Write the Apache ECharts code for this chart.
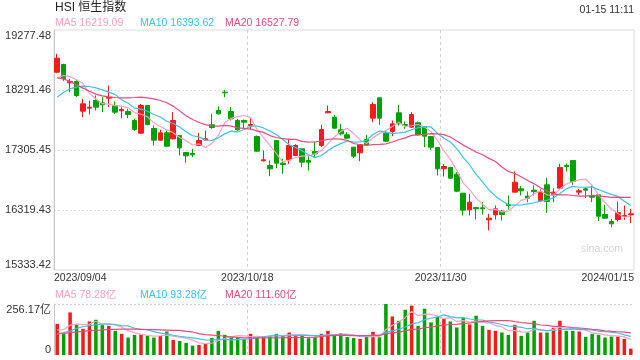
<!DOCTYPE html>
<html><head><meta charset="utf-8">
<script src="https://cdn.jsdelivr.net/npm/echarts@6/dist/echarts.min.js"></script>
<style>html,body{margin:0;padding:0;background:#fff}#c{width:640px;height:360px}</style>
</head><body><div id="c"></div>
<script>
const dates = ['2023/09/04','2023/09/05','2023/09/06','2023/09/07','2023/09/11','2023/09/12','2023/09/13','2023/09/14','2023/09/15','2023/09/18','2023/09/19','2023/09/20','2023/09/21','2023/09/22','2023/09/25','2023/09/26','2023/09/27','2023/09/28','2023/09/29',
'2023/10/03','2023/10/04','2023/10/05','2023/10/06','2023/10/09','2023/10/10','2023/10/11','2023/10/12','2023/10/13','2023/10/16','2023/10/17','2023/10/18','2023/10/19','2023/10/20','2023/10/24','2023/10/25','2023/10/26','2023/10/27','2023/10/30','2023/10/31',
'2023/11/01','2023/11/02','2023/11/03','2023/11/06','2023/11/07','2023/11/08','2023/11/09','2023/11/10','2023/11/13','2023/11/14','2023/11/15','2023/11/16','2023/11/17','2023/11/20','2023/11/21','2023/11/22','2023/11/23','2023/11/24','2023/11/27','2023/11/28','2023/11/29','2023/11/30',
'2023/12/01','2023/12/04','2023/12/05','2023/12/06','2023/12/07','2023/12/08','2023/12/11','2023/12/12','2023/12/13','2023/12/14','2023/12/15','2023/12/18','2023/12/19','2023/12/20','2023/12/21','2023/12/22','2023/12/27','2023/12/28','2023/12/29',
'2024/01/02','2024/01/03','2024/01/04','2024/01/05','2024/01/08','2024/01/09','2024/01/10','2024/01/11','2024/01/12','2024/01/15'];

const opens = [18584.6,18710.6,18409.3,18431.2,17943.6,17992.9,18118.9,18080.6,18157.3,18036.8,
17949.1,17938.2,17790.3,17582.1,18036.8,17658.8,17467.0,17587.6,17489.0,17543.7,
17264.4,17247.9,17379.4,17472.5,17719.0,17954.6,18255.9,17938.2,17790.3,17790.3,
17708.1,17527.3,17127.4,17050.7,17461.6,17089.0,17143.8,17215.1,17324.6,17132.9,
17280.8,17379.4,17916.2,17845.0,17636.9,17554.7,17352.0,17258.9,17478.0,17828.6,
18162.8,17582.1,17609.5,17916.2,17724.5,17680.7,17751.9,17691.6,17527.3,17346.5,
16995.9,17017.9,16908.3,16596.0,16322.1,16360.5,16355.0,16157.8,16240.0,16300.2,
16409.8,16612.5,16667.3,16546.7,16645.3,16475.5,16733.0,16568.7,16678.2,17050.7,
17132.9,16612.5,16667.3,16552.2,16568.7,16245.5,16130.4,16163.3,16212.6,16240.0];

const closes = [18814.6,18475.0,18431.2,18201.1,18064.2,18009.4,18009.4,18047.7,18173.7,17927.2,
17971.0,17888.9,17642.3,18036.8,17724.5,17467.0,17587.6,17368.4,17790.3,17341.1,
17209.6,17226.0,17461.6,17489.0,17675.2,17899.8,18245.0,17817.6,17636.9,17762.9,
17724.5,17286.3,17143.8,16995.9,17089.0,17067.2,17379.4,17379.4,17105.5,17105.5,
17242.4,17642.3,17938.2,17664.3,17571.1,17499.9,17204.1,17395.8,17390.4,18053.2,
17828.6,17450.6,17735.5,17735.5,17708.1,17888.9,17554.7,17532.8,17352.0,16995.9,
17034.3,16842.6,16628.9,16316.7,16448.1,16338.6,16338.6,16185.2,16338.6,16245.5,
16393.4,16776.8,16634.4,16513.9,16623.4,16612.5,16459.1,16612.5,17017.9,17034.3,
16787.8,16634.4,16645.3,16530.3,16218.1,16185.2,16092.1,16278.3,16229.0,16256.4];

const highs = [18885.8,18721.5,18475.0,18447.6,18146.3,18118.9,18201.1,18173.7,18365.4,18102.5,
18009.4,17981.9,17817.6,18064.2,18047.7,17708.1,17642.3,17625.9,17927.2,17554.7,
17264.4,17324.6,17587.6,17625.9,17899.8,18020.3,18294.2,18009.4,17817.6,17806.7,
17828.6,17543.7,17297.2,17132.9,17461.6,17160.3,17489.0,17401.3,17324.6,17215.1,
17445.1,17719.0,18036.8,17883.4,17735.5,17598.5,17352.0,17395.8,17554.7,18091.5,
18162.8,17625.9,17790.3,18047.7,17773.8,17927.2,17773.8,17691.6,17527.3,17346.5,
17072.6,17028.8,16941.2,16596.0,16585.1,16360.5,16448.1,16256.4,16393.4,16322.1,
16557.7,16952.1,16711.1,16623.4,16722.0,16656.3,16848.0,16678.2,17078.1,17083.6,
17132.9,16667.3,16694.7,16722.0,16568.7,16404.3,16174.2,16459.1,16393.4,16338.6];

const lows = [18568.1,18442.1,18255.9,18173.7,17845.0,17888.9,17954.6,17927.2,18009.4,17899.8,
17828.6,17828.6,17620.4,17571.1,17708.1,17379.4,17461.6,17352.0,17478.0,17215.1,
17094.5,17187.7,17368.4,17461.6,17653.3,17888.9,18173.7,17790.3,17620.4,17653.3,
17642.3,17280.8,17116.5,16875.4,17006.9,16913.8,17078.1,17204.1,17023.3,16968.6,
17187.7,17352.0,17910.8,17653.3,17543.7,17489.0,17171.2,17121.9,17379.4,17762.9,
17719.0,17434.2,17532.8,17708.1,17653.3,17669.7,17543.7,17352.0,17308.2,16886.4,
16870.0,16831.6,16612.5,16229.0,16229.0,16163.3,16245.5,15982.5,16163.3,16146.9,
16327.6,16612.5,16557.7,16448.1,16557.7,16448.1,16272.8,16448.1,16656.3,16952.1,
16733.0,16568.7,16519.4,16448.1,16135.9,16174.2,16037.3,16130.4,16157.8,16102.9];

const ma5 = [18490,18530,18510,18460,18397.2,18236.2,18143.1,18066.4,18060.9,18033.5,
18025.8,18001.7,17920.6,17893.2,17852.7,17751.9,17691.6,17636.9,17587.6,17510.9,
17459.4,17387.1,17405.7,17345.5,17412.3,17550.3,17754.1,17825.3,17854.9,17872.4,
17837.4,17645.6,17510.9,17382.7,17247.9,17116.4,17135.1,17182.2,17204.1,17207.4,
17242.4,17295.0,17406.8,17518.5,17611.7,17663.2,17575.5,17467.0,17412.3,17508.7,
17574.4,17623.7,17691.7,17760.7,17691.7,17703.7,17724.5,17684.0,17607.3,17464.9,
17293.9,17151.5,16970.7,16763.7,16654.1,16515.0,16414.2,16325.4,16329.8,16289.3,
16300.3,16387.9,16477.7,16512.8,16588.4,16632.2,16568.7,16564.3,16665.1,16747.3,
16782.3,16817.4,16823.9,16726.4,16563.2,16442.7,16334.2,16260.8,16200.5,16219.09];

const ma10 = [18174,18256,18311,18344,18354,18349,18327,18294,18256,18215.4,
18131.0,18072.4,17993.5,17977.1,17943.1,17888.9,17846.7,17778.7,17740.4,17681.8,
17605.7,17539.4,17521.3,17466.5,17461.6,17504.9,17570.6,17615.5,17600.2,17642.4,
17693.9,17699.9,17668.1,17618.8,17560.2,17476.9,17390.4,17346.5,17293.4,17227.7,
17179.4,17215.0,17294.5,17361.3,17409.5,17452.8,17435.3,17436.9,17465.4,17560.2,
17618.8,17599.6,17579.4,17586.5,17600.2,17639.1,17674.1,17687.8,17684.0,17578.3,
17498.8,17438.0,17327.4,17185.5,17059.5,16904.5,16782.9,16648.1,16546.8,16471.7,
16407.6,16401.0,16401.6,16421.3,16438.8,16466.2,16478.3,16521.0,16588.9,16667.8,
16707.3,16693.0,16694.1,16695.8,16655.2,16612.5,16575.8,16542.4,16463.5,16393.62];

const ma20 = [18491,18475,18431,18376,18322,18272,18223,18196,18179,18168,
18163,18163,18168,18174,18163,18146,18119,18081,18026,17948.6,
17868.3,17805.9,17757.4,17721.8,17702.3,17696.9,17708.6,17697.1,17670.3,17662.1,
17649.8,17619.6,17594.7,17542.7,17510.9,17490.9,17480.5,17481.0,17446.8,17435.0,
17436.6,17457.5,17481.3,17490.1,17484.9,17464.9,17412.8,17391.7,17379.4,17393.9,
17399.1,17407.3,17436.9,17473.9,17504.9,17545.9,17554.7,17562.4,17574.7,17569.2,
17558.8,17518.8,17453.4,17386.0,17329.8,17271.8,17228.5,17168.0,17115.4,17025.0,
16953.2,16919.5,16864.5,16803.4,16749.2,16685.3,16630.6,16584.6,16567.8,16569.8,
16557.4,16547.0,16547.9,16558.5,16547.0,16539.4,16527.0,16531.7,16526.2,16527.79];

const volumes = [156.7,106.2,214.0,155.0,131.5,168.5,177.0,150.0,146.6,121.3,
106.2,87.6,101.1,102.8,96.1,87.6,96.1,118.0,75.8,70.8,
60.7,47.2,50.6,55.6,86.0,121.3,101.1,89.3,87.6,80.9,
106.2,96.1,92.7,94.4,106.2,99.4,112.9,101.1,97.7,84.3,
89.3,106.2,121.3,96.1,109.5,91.0,86.0,80.9,91.0,116.3,
89.3,256.17,193.8,171.9,227.5,247.7,146.6,232.6,163.5,190.4,
182.0,168.5,138.2,185.4,153.4,197.2,146.6,126.4,121.3,112.9,
101.1,151.7,96.1,112.9,171.9,112.9,112.9,136.5,171.9,121.3,
121.3,118.0,91.0,106.2,101.1,87.6,92.7,92.7,80.9,32.0];

const volMa5 = [125,128,150,155,152.7,155.0,169.2,156.4,154.7,152.7,
140.2,122.3,112.6,103.8,98.8,95.0,96.7,100.1,94.7,89.7,
84.3,74.5,61.0,57.0,60.0,72.1,82.9,90.7,97.1,96.0,
93.0,92.0,92.7,94.1,99.1,97.8,101.1,102.8,103.5,99.1,
97.1,95.7,99.8,99.4,104.5,104.8,100.8,92.7,91.7,93.0,
92.7,126.7,149.3,165.5,187.7,219.4,197.5,205.3,203.6,196.2,
183.0,187.4,168.5,172.9,165.5,168.5,164.2,161.8,149.0,140.9,
121.7,122.7,116.6,114.9,126.7,129.1,121.3,129.4,141.2,131.1,
132.8,133.8,124.7,111.6,107.5,100.8,95.7,96.1,91.0,78.28];

const volMa10 = [106,112,120,134,142,148,152,155,155,152.7,
147.6,145.8,134.5,129.3,125.7,117.6,109.5,106.3,99.3,94.2,
89.7,85.6,80.6,75.9,74.8,78.2,78.7,75.8,77.0,78.0,
82.6,87.5,91.7,95.6,97.6,95.4,96.6,97.8,98.8,99.1,
97.4,98.4,101.3,101.5,101.8,100.9,98.3,96.2,95.6,98.8,
98.8,113.8,121.0,128.6,140.4,156.1,162.1,177.3,184.5,192.0,
201.2,192.5,186.9,188.2,180.8,175.8,175.8,165.2,160.9,153.2,
145.1,143.4,139.2,132.0,133.8,125.4,122.0,123.0,128.1,128.9,
130.9,127.6,127.1,126.4,119.3,116.8,114.8,110.4,101.3,93.28];

const volMa20 = [106,108,112,116,119,122,124,126,128,129,
130,130,130,129,128,127,126,125,124,123.4,
118.6,115.7,107.5,102.6,100.3,97.9,94.1,91.1,88.1,86.1,
86.1,86.5,86.1,85.7,86.2,86.8,87.6,86.8,87.9,88.6,
90.0,92.9,96.5,98.5,99.7,98.2,97.4,97.0,97.2,98.9,
98.1,106.1,111.1,115.0,121.1,128.5,130.2,136.8,140.1,145.4,
150.0,153.1,154.0,158.4,160.6,165.9,169.0,171.2,172.7,172.6,
173.2,167.9,163.1,160.1,157.3,150.6,148.9,144.1,144.5,141.1,
138.0,135.5,133.1,129.2,126.6,121.1,118.4,116.7,114.7,111.60];

const priceTicks = [15333.42, 16319.43, 17305.45, 18291.46, 19277.48];
const volTicks = [0, 256.17];
const dateTickIdx = [0, 30, 60, 90];

const FONT = '"Liberation Sans", Arial, "Noto Sans CJK SC", sans-serif';
const RED = '#f21c1c', GREEN = '#02a002';
const C5 = '#f8a3c1', C10 = '#3cc2e5', C20 = '#ec4a7c';
const last = a => a[a.length - 1];

const chart = echarts.init(document.getElementById('c'), null, {renderer: 'canvas'});
const candleData = dates.map((d, i) => [opens[i], closes[i], lows[i], highs[i]]);
const volData = volumes.map((v, i) => ({value: v, itemStyle: {color: closes[i] >= opens[i] ? RED : GREEN}}));

const vSplit = {show: true, showMinLine: false, showMaxLine: false, lineStyle: {color: '#cfcfcf', width: 1, type: [3, 3]}};
const hSplit = {show: true, showMinLine: false, showMaxLine: false, lineStyle: {color: '#dcdcdc', width: 1, type: [2, 2]}};

function txt(x, y, s, color, size, align) {
  return {type: 'text', x: x, y: y, silent: true,
    style: {text: s, fill: color, fontSize: size, fontFamily: FONT, align: align || 'left', verticalAlign: 'middle'}};
}

const option = {
  animation: false,
  backgroundColor: '#fff',
  textStyle: {fontFamily: FONT},
  grid: [
    {left: 54, right: 6, top: 30, height: 240, show: true, borderColor: '#dcdcdc', borderWidth: 1, backgroundColor: 'transparent'},
    {left: 54, right: 6, top: 304, height: 51}
  ],
  xAxis: [
    {type: 'category', gridIndex: 0, data: dates, boundaryGap: true, show: false},
    {type: 'value', gridIndex: 0, min: 0, max: 90, interval: 30, position: 'bottom',
      axisLine: {show: false}, axisTick: {show: false},
      axisLabel: {show: true, margin: 3, fontSize: 10.5, color: '#333', fontFamily: FONT,
        showMinLabel: true, showMaxLabel: true, alignMinLabel: 'left', alignMaxLabel: 'right',
        formatter: v => dates[Math.min(v, dates.length - 1)]},
      splitLine: vSplit},
    {type: 'category', gridIndex: 1, data: dates, boundaryGap: true, show: false},
    {type: 'value', gridIndex: 1, min: 0, max: 90, interval: 30,
      axisLine: {show: false}, axisTick: {show: false}, axisLabel: {show: false}, splitLine: vSplit}
  ],
  yAxis: [
    {type: 'value', gridIndex: 0, min: priceTicks[0], max: last(priceTicks), scale: true,
      axisLine: {show: true, lineStyle: {color: '#c8c8c8'}},
      axisTick: {show: false, customValues: priceTicks},
      axisLabel: {customValues: priceTicks, margin: 3, fontSize: 11, color: '#333', fontFamily: FONT,
        showMinLabel: true, showMaxLabel: true, verticalAlignMinLabel: 'bottom', verticalAlignMaxLabel: 'top',
        formatter: v => v.toFixed(2)},
      splitLine: Object.assign({customValues: priceTicks}, hSplit)},
    {type: 'value', gridIndex: 1, min: 0, max: last(volTicks), interval: last(volTicks),
      axisLine: {show: true, lineStyle: {color: '#c8c8c8'}},
      axisTick: {show: false},
      axisLabel: {margin: 3, fontSize: 11, color: '#333', fontFamily: FONT,
        showMinLabel: true, showMaxLabel: true, verticalAlignMinLabel: 'bottom', verticalAlignMaxLabel: 'top',
        formatter: v => v === 0 ? '0' : v.toFixed(2) + '亿'},
      splitLine: {show: true, showMinLine: false, lineStyle: {color: '#d0d0d0', width: 1, type: [2, 2]}}}
  ],
  series: [
    {type: 'candlestick', xAxisIndex: 0, yAxisIndex: 0, data: candleData, barWidth: 5,
      itemStyle: {color: RED, color0: GREEN, borderColor: RED, borderColor0: GREEN, borderWidth: 1}},
    {type: 'line', xAxisIndex: 0, yAxisIndex: 0, data: ma5, symbol: 'none', lineStyle: {color: C5, width: 1.2}},
    {type: 'line', xAxisIndex: 0, yAxisIndex: 0, data: ma10, symbol: 'none', lineStyle: {color: C10, width: 1.2}},
    {type: 'line', xAxisIndex: 0, yAxisIndex: 0, data: ma20, symbol: 'none', lineStyle: {color: C20, width: 1.2}},
    {type: 'bar', xAxisIndex: 2, yAxisIndex: 1, data: volData, barWidth: 3.5},
    {type: 'line', xAxisIndex: 2, yAxisIndex: 1, data: volMa5, symbol: 'none', lineStyle: {color: C5, width: 1.2}},
    {type: 'line', xAxisIndex: 2, yAxisIndex: 1, data: volMa10, symbol: 'none', lineStyle: {color: C10, width: 1.2}},
    {type: 'line', xAxisIndex: 2, yAxisIndex: 1, data: volMa20, symbol: 'none', lineStyle: {color: C20, width: 1.2}}
  ],
  graphic: [
    txt(55, 8, 'HSI 恒生指数', '#222', 12),
    txt(634, 10, '01-15 11:11', '#333', 10.5, 'right'),
    txt(55, 23.5, 'MA5 ' + last(ma5).toFixed(2), C5, 10.5),
    txt(140, 23.5, 'MA10 ' + last(ma10).toFixed(2), C10, 10.5),
    txt(225, 23.5, 'MA20 ' + last(ma20).toFixed(2), C20, 10.5),
    txt(55, 295, 'MA5 ' + last(volMa5).toFixed(2) + '亿', C5, 10.5),
    txt(140, 295, 'MA10 ' + last(volMa10).toFixed(2) + '亿', C10, 10.5),
    txt(225, 295, 'MA20 ' + last(volMa20).toFixed(2) + '亿', C20, 10.5),
    txt(623, 249, 'sina.com', '#d4d4d4', 10.5, 'right')
  ]
};
chart.setOption(option);
</script>
</body></html>
